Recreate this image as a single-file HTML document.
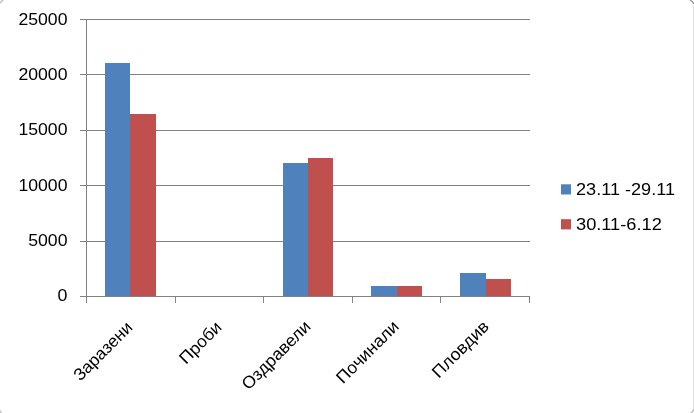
<!DOCTYPE html>
<html>
<head>
<meta charset="utf-8">
<style>
html,body{margin:0;padding:0;background:#fff;}
body{width:694px;height:413px;overflow:hidden;}
svg{display:block;will-change:transform;}
text{font-family:"Liberation Sans",sans-serif;fill:#000;}
</style>
</head>
<body>
<svg width="694" height="413" viewBox="0 0 694 413">
<rect x="0" y="0" width="694" height="413" fill="#ffffff"/>
<!-- cropped rounded chart border hints -->
<g fill="none" stroke-linecap="butt">
<path d="M-0.5 3.5 L3.5 -0.5" stroke="#c4c4c4" stroke-width="1.6"/>
<path d="M689.3 -0.7 Q692.5 1.5 694.7 4.7" stroke="#8e9292" stroke-width="1.1"/>
<path d="M694.7 408.3 Q692.8 411.5 690.3 413.7" stroke="#b4b8b8" stroke-width="1.3"/>
<path d="M-0.5 410 Q0 412.5 2 413.5" stroke="#c6c6c6" stroke-width="1.6"/>
</g>
<line x1="693.5" y1="5" x2="693.5" y2="408" stroke="#dfe1e2" stroke-width="1"/>

<!-- gridlines -->
<g stroke="#828282" stroke-width="1" shape-rendering="crispEdges">
<line x1="80" y1="19.5" x2="530" y2="19.5"/>
<line x1="80" y1="74.5" x2="530" y2="74.5"/>
<line x1="80" y1="130.5" x2="530" y2="130.5"/>
<line x1="80" y1="185.5" x2="530" y2="185.5"/>
<line x1="80" y1="241.5" x2="530" y2="241.5"/>
</g>

<!-- bars -->
<g shape-rendering="crispEdges">
<rect x="105" y="63" width="25" height="233" fill="#4f81bd"/>
<rect x="130" y="114" width="26" height="182" fill="#c0504d"/>
<rect x="283" y="163" width="25" height="133" fill="#4f81bd"/>
<rect x="308" y="158" width="25" height="138" fill="#c0504d"/>
<rect x="371" y="286" width="26" height="10" fill="#4f81bd"/>
<rect x="397" y="286" width="25" height="10" fill="#c0504d"/>
<rect x="460" y="273" width="26" height="23" fill="#4f81bd"/>
<rect x="486" y="279" width="25" height="17" fill="#c0504d"/>
</g>

<!-- axes -->
<g stroke="#828282" stroke-width="1" shape-rendering="crispEdges">
<line x1="86.5" y1="19" x2="86.5" y2="303"/>
<line x1="80" y1="296.5" x2="530" y2="296.5"/>
<line x1="175.5" y1="296" x2="175.5" y2="303"/>
<line x1="263.5" y1="296" x2="263.5" y2="303"/>
<line x1="352.5" y1="296" x2="352.5" y2="303"/>
<line x1="440.5" y1="296" x2="440.5" y2="303"/>
<line x1="529.5" y1="296" x2="529.5" y2="303"/>
</g>

<!-- y labels -->
<g font-size="17" text-anchor="end" lengthAdjust="spacingAndGlyphs">
<text x="67.5" y="25" textLength="49.1" lengthAdjust="spacingAndGlyphs">25000</text>
<text x="67.5" y="80.3" textLength="49.1" lengthAdjust="spacingAndGlyphs">20000</text>
<text x="67.5" y="135.2" textLength="49.1" lengthAdjust="spacingAndGlyphs">15000</text>
<text x="67.5" y="190.7" textLength="49.1" lengthAdjust="spacingAndGlyphs">10000</text>
<text x="67.5" y="245.6" textLength="39.3" lengthAdjust="spacingAndGlyphs">5000</text>
<text x="67.5" y="300.7" textLength="9.9" lengthAdjust="spacingAndGlyphs">0</text>
</g>

<!-- category labels -->
<g font-size="17" text-anchor="end">
<text transform="translate(133.6,328.4) rotate(-45)" textLength="75.6" lengthAdjust="spacingAndGlyphs">Заразени</text>
<text transform="translate(222.8,328.3) rotate(-45)" textLength="52" lengthAdjust="spacingAndGlyphs">Проби</text>
<text transform="translate(311.7,327.5) rotate(-45)" textLength="89.5" lengthAdjust="spacingAndGlyphs">Оздравели</text>
<text transform="translate(400,327.5) rotate(-45)" textLength="80.5" lengthAdjust="spacingAndGlyphs">Починали</text>
<text transform="translate(490,327.6) rotate(-45)" textLength="72.6" lengthAdjust="spacingAndGlyphs">Пловдив</text>
</g>

<!-- legend -->
<rect x="561" y="184.3" width="10" height="10.2" fill="#4f81bd"/>
<rect x="561" y="219.2" width="10" height="10.2" fill="#c0504d"/>
<g font-size="17">
<text x="576" y="195" textLength="99" lengthAdjust="spacingAndGlyphs">23.11 -29.11</text>
<text x="576" y="230" textLength="85.8" lengthAdjust="spacingAndGlyphs">30.11-6.12</text>
</g>
</svg>
</body>
</html>
